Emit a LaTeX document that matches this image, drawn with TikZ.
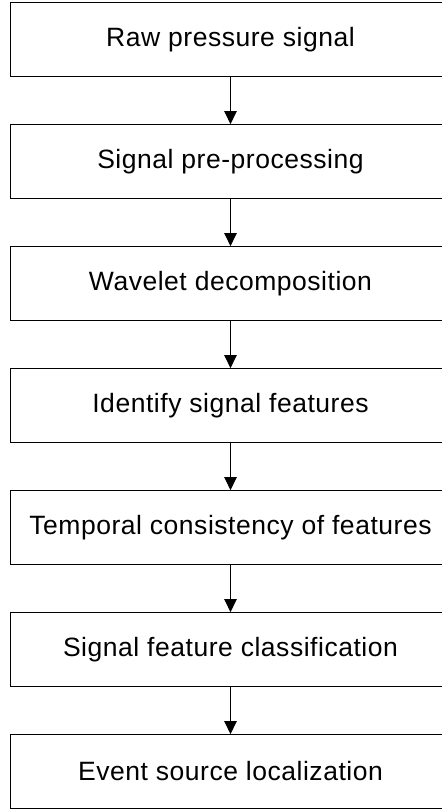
\documentclass[tikz,border=0pt]{standalone}
\usepackage{fontspec}
\setmainfont{Liberation Sans}[LetterSpace=2]
\usetikzlibrary{arrows.meta}
\begin{document}
\begin{tikzpicture}[
  x=1pt,y=1pt,font=\fontsize{26.5}{31}\selectfont,line width=1.3pt,
  every node/.style={inner sep=0pt},
  stage/.style={draw,minimum width=440pt,minimum height=73.5pt},
  flow/.style={-{Triangle[width=12.5pt,length=13pt]},line width=1.1pt}
]
  % The boxes run past the right edge of the page.
  \clip (0,0) rectangle (442,-812);

  \node[stage] (raw) at (230.5,-39.5) {Raw pressure signal};
  \node[stage] (pre) at (230.5,-161.5) {Signal pre-processing};
  \node[stage] (wav) at (230.5,-283.5) {Wavelet decomposition};
  \node[stage] (feat) at (230.5,-405.5) {Identify signal features};
  \node[stage] (temp) at (230.5,-527.5) {Temporal consistency of features};
  \node[stage] (cls) at (230.5,-649.5) {Signal feature classification};
  \node[stage] (loc) at (230.5,-771.5) {Event source localization};

  % One arrow per step, top to bottom.
  \draw[flow] (raw) -- (pre);
  \draw[flow] (pre) -- (wav);
  \draw[flow] (wav) -- (feat);
  \draw[flow] (feat) -- (temp);
  \draw[flow] (temp) -- (cls);
  \draw[flow] (cls) -- (loc);
\end{tikzpicture}
\end{document}
